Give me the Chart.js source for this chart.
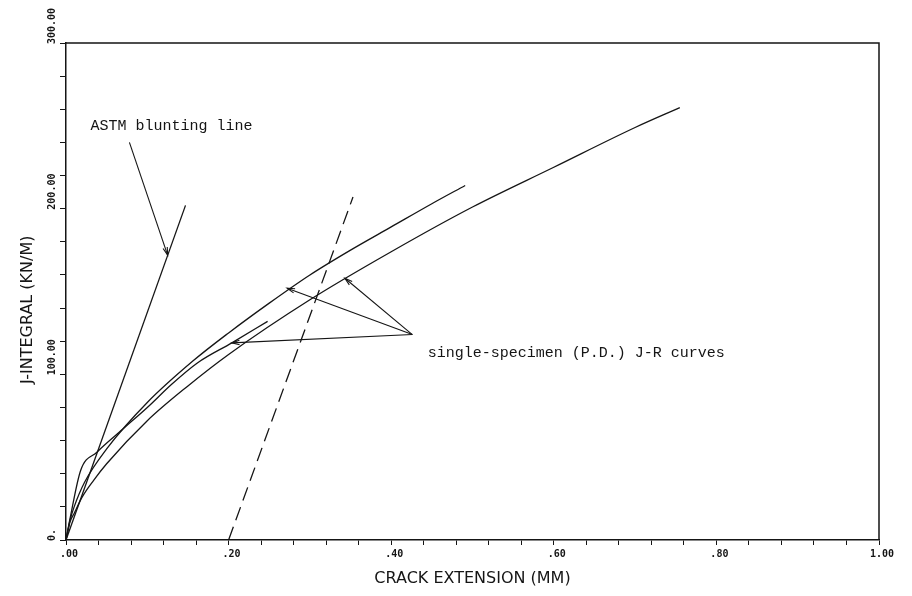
<!DOCTYPE html>
<html>
<head>
<meta charset="utf-8">
<title>J-R curves</title>
<script src="https://cdn.jsdelivr.net/npm/chart.js@4.4.1/dist/chart.umd.min.js"></script>
<style>
    html, body { margin: 0; padding: 0; background: #fff; }
    #chartBox { width: 912px; height: 596px; }
</style>
</head>
<body>
<div id="chartBox"><canvas id="myChart" width="912" height="596"></canvas></div>
<script>
// values: crack extension (mm) / J (kN/m)
const bluntingX = [0, 0.147];
const bluntingJ = [0, 202];

const offsetX = [0.20, 0.353];
const offsetJ = [0, 207];

const curveAX = [0, 0.005, 0.01, 0.02, 0.034, 0.05, 0.10, 0.15, 0.20, 0.30, 0.40, 0.50, 0.60, 0.70, 0.755];
const curveAJ = [0, 11, 16, 26, 36, 46, 72, 93, 112, 145, 174, 201, 225, 249, 261];

const curveBX = [0, 0.005, 0.01, 0.023, 0.05, 0.10, 0.156, 0.20, 0.25, 0.30, 0.35, 0.40, 0.45, 0.491];
const curveBJ = [0, 12, 20, 35, 55, 83, 108, 125, 143, 160, 175, 189, 203, 214];

const curveCX = [0, 0.005, 0.018, 0.038, 0.07, 0.10, 0.13, 0.162, 0.204, 0.248];
const curveCJ = [0, 13, 42, 53, 67, 80, 94, 107, 119, 132];

const xTickLabels = [".00", ".20", ".40", ".60", ".80", "1.00"];
const yTickValues = [0, 100, 200, 300];
const yTickLabels = ["0.", "100.00", "200.00", "300.00"];

// annotation anchors, in data units
const notes = {
    astmText: "ASTM blunting line",
    astmAt: [0.03, 250],
    astmFrom: [0.078, 240],
    astmTip: [0.125, 172],
    jrText: "single-specimen (P.D.) J-R curves",
    jrAt: [0.445, 113],
    jrFrom: [0.426, 124],
    jrTips: [[0.272, 152], [0.343, 158], [0.204, 119]]
};

const ink = "#151515";

function toPoints(xs, ys) {
    return xs.map((x, i) => ({ x: x, y: ys[i] }));
}

function toPx(chart, p) {
    return [chart.scales.x.getPixelForValue(p[0]), chart.scales.y.getPixelForValue(p[1])];
}

function drawArrow(ctx, from, to) {
    ctx.beginPath();
    ctx.moveTo(from[0], from[1]);
    ctx.lineTo(to[0], to[1]);
    ctx.stroke();
    const ang = Math.atan2(to[1] - from[1], to[0] - from[0]);
    const len = 8;
    ctx.beginPath();
    ctx.moveTo(to[0] - len * Math.cos(ang - 0.28), to[1] - len * Math.sin(ang - 0.28));
    ctx.lineTo(to[0], to[1]);
    ctx.lineTo(to[0] - len * Math.cos(ang + 0.28), to[1] - len * Math.sin(ang + 0.28));
    ctx.stroke();
}

const extrasPlugin = {
    id: "extras",
    afterDraw(chart) {
        const ctx = chart.ctx;
        const area = chart.chartArea;
        ctx.save();
        ctx.strokeStyle = ink;
        ctx.fillStyle = ink;

        // top and right of the frame
        ctx.lineWidth = 1.5;
        ctx.beginPath();
        ctx.moveTo(area.left, area.top);
        ctx.lineTo(area.right, area.top);
        ctx.lineTo(area.right, area.bottom);
        ctx.stroke();

        // y tick labels, turned and starting at the tick
        ctx.font = "bold 10px 'DejaVu Sans Mono'";
        ctx.textAlign = "left";
        ctx.textBaseline = "middle";
        yTickValues.forEach((v, i) => {
            const y = chart.scales.y.getPixelForValue(v);
            ctx.save();
            ctx.translate(area.left - 14, y + 1);
            ctx.rotate(-Math.PI / 2);
            ctx.fillText(yTickLabels[i], 0, 0);
            ctx.restore();
        });

        // y axis title
        ctx.font = "16px 'DejaVu Sans'";
        ctx.textAlign = "center";
        ctx.save();
        ctx.translate(28, chart.scales.y.getPixelForValue(139));
        ctx.rotate(-Math.PI / 2);
        ctx.fillText("J-INTEGRAL (KN/M)", 0, 0);
        ctx.restore();

        // annotations
        ctx.lineWidth = 1.1;
        ctx.font = "15px 'Liberation Mono'";
        ctx.textAlign = "left";
        const a = toPx(chart, notes.astmAt);
        ctx.fillText(notes.astmText, a[0], a[1]);
        drawArrow(ctx, toPx(chart, notes.astmFrom), toPx(chart, notes.astmTip));

        const j = toPx(chart, notes.jrAt);
        ctx.fillText(notes.jrText, j[0], j[1]);
        const from = toPx(chart, notes.jrFrom);
        notes.jrTips.forEach(tip => drawArrow(ctx, from, toPx(chart, tip)));

        ctx.restore();
    }
};

const lineStyle = {
    borderColor: ink,
    borderWidth: 1.3,
    pointRadius: 0,
    fill: false
};

const canvas = document.getElementById("myChart");

new Chart(canvas, {
    type: "line",
    data: {
        datasets: [
            Object.assign({ label: "blunting", data: toPoints(bluntingX, bluntingJ), tension: 0 }, lineStyle),
            Object.assign({ label: "offset", data: toPoints(offsetX, offsetJ), tension: 0, borderDash: [14, 7] }, lineStyle),
            Object.assign({ label: "A", data: toPoints(curveAX, curveAJ), cubicInterpolationMode: "monotone" }, lineStyle),
            Object.assign({ label: "B", data: toPoints(curveBX, curveBJ), cubicInterpolationMode: "monotone" }, lineStyle),
            Object.assign({ label: "C", data: toPoints(curveCX, curveCJ), cubicInterpolationMode: "monotone" }, lineStyle)
        ]
    },
    options: {
        responsive: false,
        animation: false,
        devicePixelRatio: 1,
        layout: { padding: { top: 43, right: 33, left: 0, bottom: 0 } },
        plugins: {
            legend: { display: false },
            tooltip: { enabled: false }
        },
        scales: {
            x: {
                type: "linear",
                min: 0,
                max: 1,
                afterFit: scale => { scale.height = 56; },
                border: { display: true, color: ink, width: 1.5 },
                grid: { drawOnChartArea: false, drawTicks: true, tickLength: 5, color: ink, lineWidth: 1 },
                ticks: {
                    stepSize: 0.04,
                    autoSkip: false,
                    maxRotation: 0,
                    padding: 3,
                    labelOffset: 3,
                    color: ink,
                    font: { family: "DejaVu Sans Mono", size: 10, weight: "bold" },
                    callback: value => {
                        const k = value / 0.2;
                        if (Math.abs(k - Math.round(k)) < 1e-6) {
                            return xTickLabels[Math.round(k)];
                        }
                        return "";
                    }
                },
                title: {
                    display: true,
                    text: "CRACK EXTENSION (MM)",
                    color: ink,
                    font: { family: "DejaVu Sans", size: 16 },
                    padding: { top: 0, bottom: 8 }
                }
            },
            y: {
                min: 0,
                max: 300,
                afterFit: scale => { scale.width = 66; },
                border: { display: true, color: ink, width: 1.5 },
                grid: { drawOnChartArea: false, drawTicks: true, tickLength: 6, color: ink, lineWidth: 1 },
                ticks: {
                    stepSize: 20,
                    autoSkip: false,
                    callback: () => ""
                }
            }
        }
    },
    plugins: [extrasPlugin]
});
</script>
</body>
</html>
